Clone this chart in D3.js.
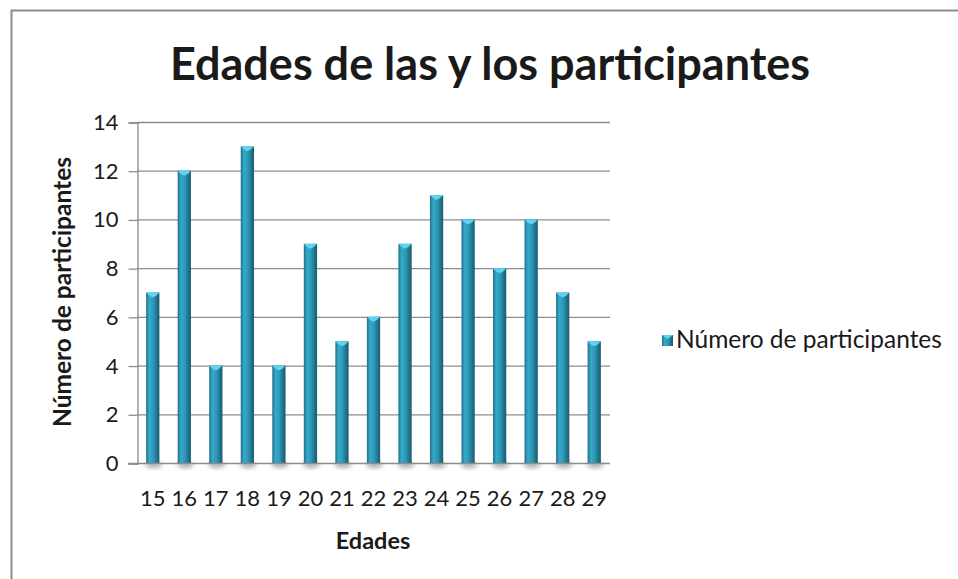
<!doctype html>
<html>
<head>
<meta charset="utf-8">
<title>Edades de las y los participantes</title>
<script src="https://d3js.org/d3.v7.min.js"></script>
<style>
  body { margin: 0; background: #fff; }
  text { font-family: Lato, "Open Sans", sans-serif; fill: #1a1a1a; }
</style>
</head>
<body>
<svg id="chart" width="958" height="579"></svg>
<script>
// data
var ages = ["15","16","17","18","19","20","21","22","23","24","25","26","27","28","29"];
var participants = [7, 12, 4, 13, 4, 9, 5, 6, 9, 11, 10, 8, 10, 7, 5];
var yTicks = [0, 2, 4, 6, 8, 10, 12, 14];
var seriesName = "Número de participantes";

var svg = d3.select("#chart");
var plot = {left: 137, right: 610, top: 122, bottom: 463};

// outer frame (only top + left visible in the picture)
svg.append("path")
  .attr("d", "M11.5,579 L11.5,10.5 L958,10.5")
  .attr("fill", "none").attr("stroke", "#8c8c8c").attr("stroke-width", 2);

var defs = svg.append("defs");
var grad = defs.append("linearGradient").attr("id", "barGrad")
  .attr("x1", "0%").attr("x2", "100%").attr("y1", "0%").attr("y2", "0%");
grad.append("stop").attr("offset", "0%").attr("stop-color", "#1f7088");
grad.append("stop").attr("offset", "25%").attr("stop-color", "#36aacb");
grad.append("stop").attr("offset", "55%").attr("stop-color", "#2d97b5");
grad.append("stop").attr("offset", "100%").attr("stop-color", "#175a6e");

var blur = defs.append("filter").attr("id", "shadow")
  .attr("x", "-50%").attr("y", "-50%").attr("width", "200%").attr("height", "200%");
blur.append("feGaussianBlur").attr("stdDeviation", 2);

var x = d3.scaleBand().domain(ages).range([plot.left, plot.right]).paddingInner(0.58).paddingOuter(0.29);
var y = d3.scaleLinear().domain([0, 14]).range([plot.bottom, plot.top]);

// gridlines
svg.append("g").selectAll("line").data(yTicks.slice(1)).join("line")
  .attr("x1", plot.left).attr("x2", plot.right)
  .attr("y1", d => y(d) + 0.5).attr("y2", d => y(d) + 0.5)
  .attr("stroke", "#8c8c8c").attr("stroke-width", 1.3);

// y axis
var yAxis = svg.append("g").attr("transform", "translate(" + (plot.left + 0.5) + ",0.5)")
  .call(d3.axisLeft(y).tickValues(yTicks).tickSize(9).tickPadding(10));
yAxis.select(".domain").attr("stroke", "#8c8c8c").attr("stroke-width", 1.3);
yAxis.selectAll(".tick line").attr("stroke", "#8c8c8c").attr("stroke-width", 1.3);
yAxis.selectAll("text").attr("font-size", 22).attr("fill", "#1a1a1a")
  .style("font-family", "Lato, sans-serif");

// bar shadows
svg.append("g").selectAll("ellipse").data(participants).join("ellipse")
  .attr("cx", (d, i) => x(ages[i]) + x.bandwidth() / 2 + 1)
  .attr("cy", plot.bottom + 2)
  .attr("rx", x.bandwidth() / 2 + 2).attr("ry", 3)
  .attr("fill", "#777").attr("opacity", 0.6).attr("filter", "url(#shadow)");

// bars
var bars = svg.append("g").selectAll("g").data(participants).join("g");
bars.append("rect")
  .attr("x", (d, i) => x(ages[i]))
  .attr("y", d => y(d))
  .attr("width", x.bandwidth())
  .attr("height", d => y(0) - y(d))
  .attr("fill", "url(#barGrad)");
bars.append("path")
  .attr("d", function(d, i) {
    var x0 = x(ages[i]), w = x.bandwidth(), top = y(d);
    return "M" + x0 + "," + top + " L" + (x0 + w) + "," + top +
      " L" + (x0 + w - 3) + "," + (top + 3) + " L" + (x0 + w / 2) + "," + (top + 5) +
      " L" + (x0 + 3) + "," + (top + 3) + "Z";
  })
  .attr("fill", "#5fd3ef");

// x axis line
svg.append("line")
  .attr("x1", plot.left - 9).attr("x2", plot.right)
  .attr("y1", plot.bottom + 0.5).attr("y2", plot.bottom + 0.5)
  .attr("stroke", "#8c8c8c").attr("stroke-width", 1.3);

// x tick labels
svg.append("g").selectAll("text").data(ages).join("text")
  .attr("x", d => x(d) + x.bandwidth() / 2)
  .attr("y", 506)
  .attr("text-anchor", "middle")
  .attr("font-size", 22)
  .text(d => d);

// axis titles
svg.append("text")
  .attr("x", 373).attr("y", 549)
  .attr("text-anchor", "middle")
  .attr("font-size", 23.5).attr("font-weight", "bold")
  .text("Edades");

svg.append("text")
  .attr("transform", "translate(71,292) rotate(-90)")
  .attr("text-anchor", "middle")
  .attr("font-size", 24.5).attr("font-weight", "bold")
  .text(seriesName);

// title
svg.append("text")
  .attr("x", 490).attr("y", 80)
  .attr("text-anchor", "middle")
  .attr("font-size", 45).attr("font-weight", "bold")
  .attr("fill", "#000")
  .text("Edades de las y los participantes");

// legend
var legend = svg.append("g").attr("transform", "translate(662,335)");
legend.append("rect").attr("width", 11).attr("height", 11).attr("fill", "url(#barGrad)");
legend.append("path").attr("d", "M0,0 L11,0 L5.5,4 Z").attr("fill", "#5fd3ef");
legend.append("text").attr("x", 14).attr("y", 13)
  .attr("font-size", 24.5).text(seriesName);
</script>
</body>
</html>
